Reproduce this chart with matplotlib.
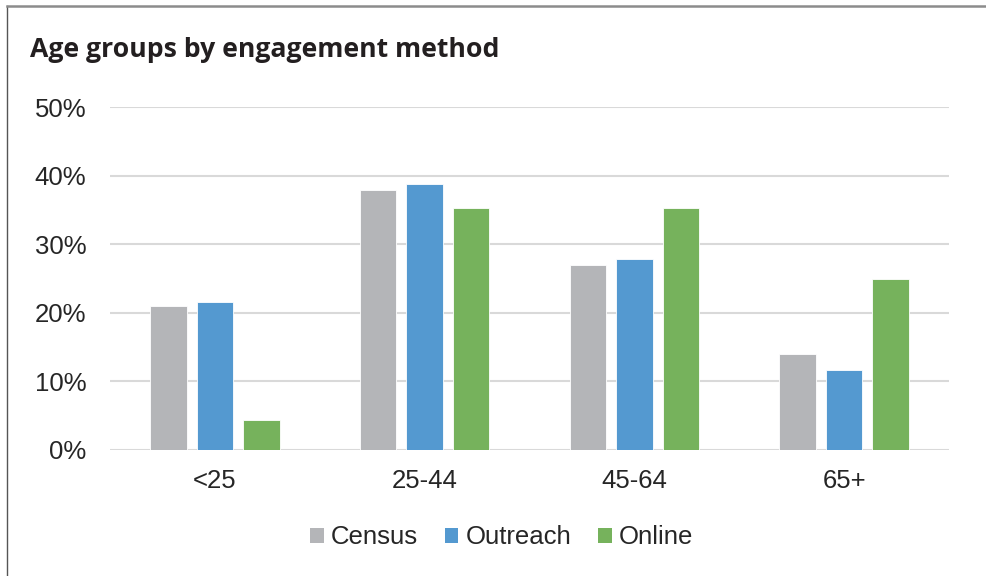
import matplotlib
matplotlib.use("Agg")
import matplotlib.pyplot as plt
from matplotlib.patches import Patch
from matplotlib.lines import Line2D
import numpy as np

categories = ["<25", "25-44", "45-64", "65+"]
series_names = ["Census", "Outreach", "Online"]
census = [20.9, 37.9, 26.9, 14.0]
outreach = [21.6, 38.7, 27.8, 11.6]
online = [4.3, 35.3, 35.3, 24.9]
yticks = [0, 10, 20, 30, 40, 50]
ytick_labels = ["0%", "10%", "20%", "30%", "40%", "50%"]

colors = ["#B4B5B8", "#5499D0", "#76B25C"]
title = "Age groups by engagement method"

fig = plt.figure(figsize=(9.87, 5.76), dpi=100)
fig.patch.set_facecolor("white")

W, H = 987, 576
ax = fig.add_axes([110 / W, 1 - 449.7 / H, (949 - 110) / W, (449.7 - 107) / H])

x = np.arange(len(categories))
bw = 0.174
step = 0.222
for i, (vals, c) in enumerate(zip([census, outreach, online], colors)):
    ax.bar(x + (i - 1) * step, vals, width=bw, color=c, edgecolor="white",
           linewidth=0.6, zorder=3)

ax.set_xlim(-0.5, 3.5)
ax.set_ylim(0, 50)
ax.set_yticks(yticks)
ax.set_yticklabels(ytick_labels)
ax.set_xticks(x)
ax.set_xticklabels(categories)
ax.yaxis.grid(True, color="#D9D9D9", linewidth=1.5, zorder=0)
ax.set_axisbelow(True)
for s in ax.spines.values():
    s.set_visible(False)
ax.tick_params(axis="both", length=0, labelsize=18.5, colors="#262626")
ax.tick_params(axis="y", pad=17)
ax.tick_params(axis="x", pad=14)
for lab in ax.get_xticklabels() + ax.get_yticklabels():
    lab.set_fontfamily("Liberation Sans")

fig.text(30 / W, 1 - 50 / H, title, fontsize=19.2, fontweight="bold",
         family="Open Sans", color="#231F20", va="center", ha="left")

handles = [Patch(facecolor=c, edgecolor="none") for c in colors]
leg = fig.legend(handles, series_names, loc="center", bbox_to_anchor=(502 / W, 1 - 537.5 / H),
                 ncol=3, frameon=False, prop={"family": "Liberation Sans", "size": 18.5},
                 handlelength=0.52, handleheight=0.52, handletextpad=0.29,
                 columnspacing=1.04, labelcolor="#262626")

# frame border
fig.add_artist(Line2D([7.5 / W, 7.5 / W], [0, 1 - 5.5 / H], transform=fig.transFigure,
                      color="#555555", linewidth=1.0))
fig.add_artist(Line2D([7 / W, 1], [1 - 5.5 / H, 1 - 5.5 / H], transform=fig.transFigure,
                      color="#8C8C8C", linewidth=1.8))

fig.savefig("out.png", dpi=100, facecolor="white")
